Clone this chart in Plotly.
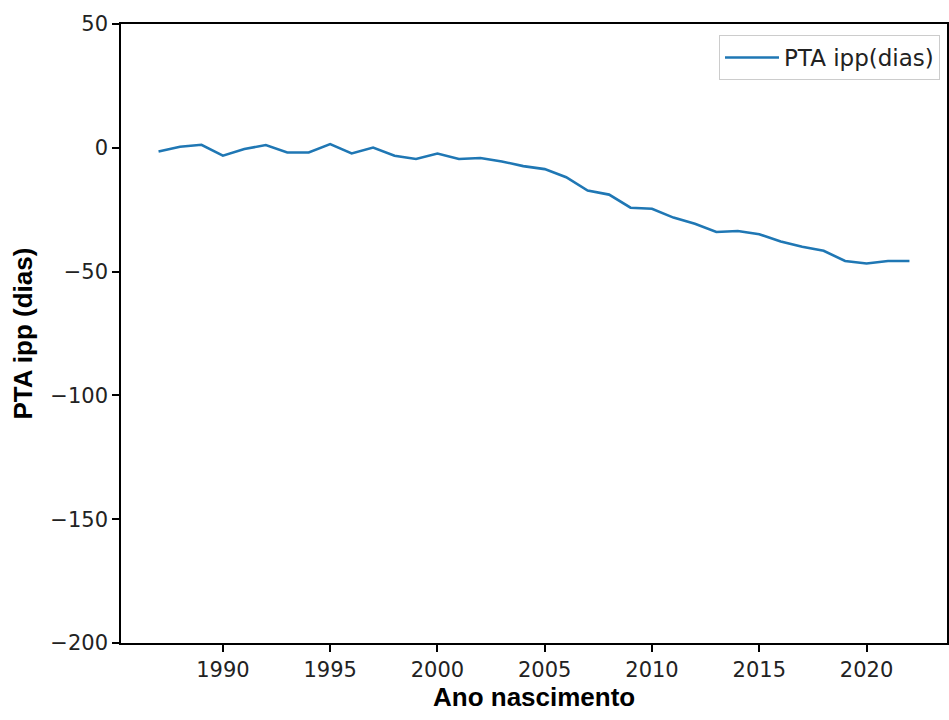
import plotly.graph_objects as go

years = list(range(1987, 2023))
pta_ipp = [-1.5, 0.4, 1.2, -3.2, -0.5, 1.1, -1.9, -1.9, 1.5, -2.3,
           0.1, -3.2, -4.5, -2.3, -4.5, -4.1, -5.5, -7.4, -8.6, -11.9,
           -17.3, -18.9, -24.2, -24.6, -28.2, -30.7, -34.0, -33.6, -34.9, -37.8,
           -40.0, -41.6, -45.7, -46.7, -45.7, -45.7]

series_name = "PTA ipp(dias)"
x_title = "Ano nascimento"
y_title = "PTA ipp (dias)"
x_ticks = [1990, 1995, 2000, 2005, 2010, 2015, 2020]
y_ticks = [-200, -150, -100, -50, 0, 50]

W, H = 949, 720
L, T = 121, 24
R = W - 947
B = H - 643
pw = W - L - R
ph = H - T - B

fig = go.Figure()
fig.add_trace(go.Scatter(x=years, y=pta_ipp, mode="lines", name=series_name,
                         line=dict(color="#1f77b4", width=2.6)))

tickfont = dict(family="DejaVu Sans", size=21, color="#222222")
axis_common = dict(showline=True, linecolor="black", linewidth=1.6, mirror=True,
                   ticks="outside", ticklen=7, tickwidth=1.6, tickcolor="black",
                   showgrid=False, zeroline=False, tickfont=tickfont)

fig.update_layout(
    width=W, height=H,
    margin=dict(l=L, r=R, t=T, b=B, autoexpand=False),
    paper_bgcolor="white", plot_bgcolor="white",
    xaxis=dict(range=[1985.25, 2023.75], tickvals=x_ticks, **axis_common),
    yaxis=dict(range=[-200, 50], tickvals=y_ticks, **axis_common),
    showlegend=True,
    legend=dict(x=1 - 7 / pw, xanchor="right", y=1 - 11 / ph, yanchor="top",
                bgcolor="rgba(255,255,255,0.8)", bordercolor="#cccccc", borderwidth=1,
                itemwidth=54,
                font=dict(family="DejaVu Sans", size=23, color="#222222")),
    annotations=[
        dict(text="<b>" + x_title + "</b>", xref="paper", yref="paper",
             x=0.5, y=(643 - 697) / ph, xanchor="center", yanchor="middle",
             showarrow=False, font=dict(family="Liberation Sans", size=26, color="black")),
        dict(text="<b>" + y_title + "</b>", xref="paper", yref="paper",
             x=(22 - 121) / pw, y=0.5, xanchor="center", yanchor="middle", textangle=-90,
             showarrow=False, font=dict(family="Liberation Sans", size=26, color="black")),
    ],
)

fig.write_html("out.html",
               config={"displayModeBar": False},
               post_script="document.body.style.margin='0px';document.body.style.overflow='hidden';")
